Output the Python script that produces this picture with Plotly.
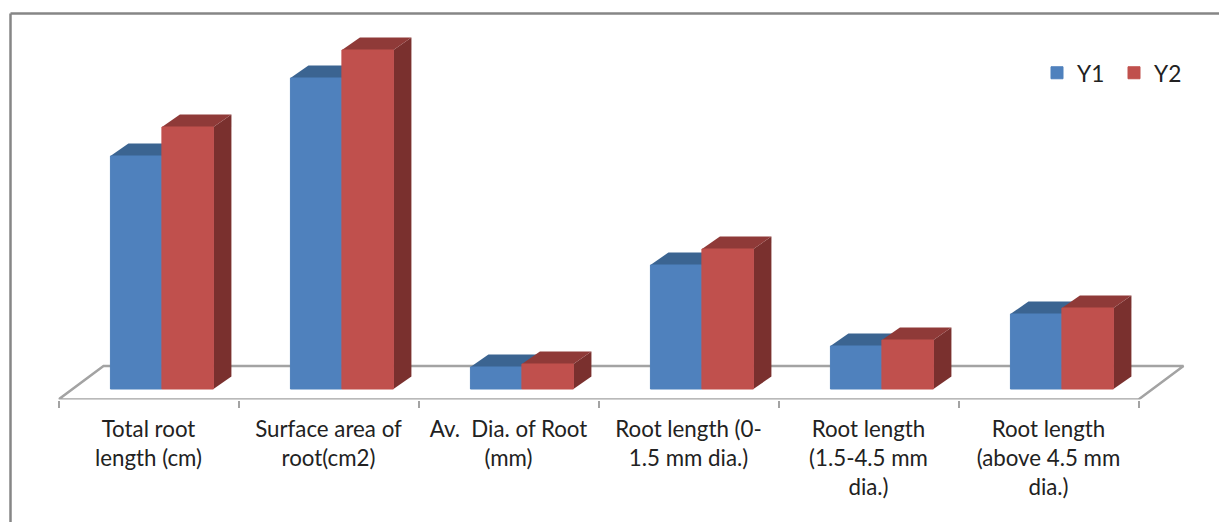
import plotly.graph_objects as go

categories = ["Total root<br>length (cm)", "Surface area of<br>root(cm2)", "Av.  Dia. of Root<br>(mm)",
              "Root length (0-<br>1.5 mm dia.)", "Root length<br>(1.5-4.5 mm<br>dia.)", "Root length<br>(above 4.5 mm<br>dia.)"]
y1 = [233, 311, 22, 124, 43, 75]
y2 = [262, 339, 25, 140, 49, 81]

W, H = 1219, 522
L, RIGHT, T, BOTTOM = 58.5, 1200, 13, 399.5   # plot area in page pixels
UX = 180                           # px per category
DX, DY = 18 / UX, 12.5             # bar depth
BW = 51.5 / UX
OFF1, OFF2 = -0.2115, 0.0745
GREY = "#a3a3a3"
FONT = "Lato, Carlito, sans-serif"

def face(xs, ys, color, z):
    return go.Scatter(x=xs, y=ys, mode="lines", fill="toself", fillcolor=color,
                      line=dict(width=0), hoverinfo="skip", showlegend=False,
                      cliponaxis=False, zorder=z)

fig = go.Figure()

# floor outline
fig.add_trace(go.Scatter(x=[-0.5, -0.25, 5.75, 5.5, -0.5], y=[-10.5, 23, 23, -10.5, -10.5], mode="lines",
                         line=dict(color=GREY, width=2.5), hoverinfo="skip", showlegend=False,
                         cliponaxis=False, zorder=0))

def series(vals, off, name, front, top, side, z):
    for i, v in enumerate(vals):
        l = i + off
        r = l + BW
        fig.add_trace(face([r, r + DX, r + DX, r], [0, DY, v + DY, v], side, z))
        fig.add_trace(face([l, l + DX, r + DX, r], [v, v + DY, v + DY, v], top, z))
    fig.add_trace(go.Bar(x=list(range(6)), y=vals, name=name, width=BW, offset=off,
                         marker=dict(color=front, line=dict(width=1, color=front)), zorder=z + 1))

series(y1, OFF1, "Y1", "#4f81bd", "#3b6491", "#335678", 1)
series(y2, OFF2, "Y2", "#c0504d", "#8f3a38", "#7a302e", 3)

px = lambda p: p / W
py = lambda p: 1 - p / H
frame = dict(color="#868686", width=2.5)

fig.update_layout(
    width=W, height=H, autosize=False,
    margin=dict(l=0, r=0, t=0, b=0, pad=0),
    paper_bgcolor="white", plot_bgcolor="white",
    barmode="overlay", showlegend=True,
    font=dict(family=FONT, color="#222222"),
    legend=dict(orientation="h", x=px(1037), y=py(73), xanchor="left", yanchor="middle",
                font=dict(size=22.7), bgcolor="rgba(0,0,0,0)", traceorder="normal",
                entrywidth=32, entrywidthmode="pixels", itemwidth=30),
    xaxis=dict(domain=[px(L), px(RIGHT)], range=[-0.5, (RIGHT - L) / UX - 0.5], tickmode="array",
               tickvals=list(range(6)),
               ticktext=categories, ticks="", showgrid=False, zeroline=False, showline=False,
               ticklabelstandoff=14,
               tickfont=dict(size=22.3, family=FONT, color="#222222"),
               minor=dict(tickmode="array", tickvals=[i - 0.5 for i in range(7)],
                          ticks="outside", ticklen=7, tickwidth=2, tickcolor=GREY, showgrid=False)),
    yaxis=dict(domain=[py(BOTTOM), py(T)], range=[-10.5, (BOTTOM - T) - 10.5], visible=False),
    shapes=[
        dict(type="line", xref="paper", yref="paper", x0=px(10.5), x1=px(10.5), y0=py(13.5), y1=0, line=frame),
        dict(type="line", xref="paper", yref="paper", x0=px(10.5), x1=1, y0=py(13.5), y1=py(13.5), line=frame),
    ],
)

fig.write_html("out.html", config=dict(displayModeBar=False),
               post_script="document.body.style.margin='0';")
